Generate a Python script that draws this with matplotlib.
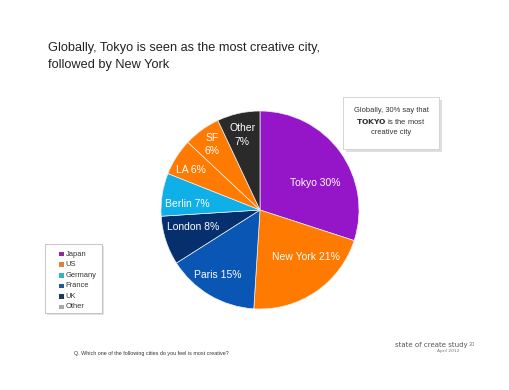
import matplotlib
matplotlib.use("Agg")
import matplotlib.pyplot as plt
from matplotlib.patches import Rectangle

cities = ["Tokyo", "New York", "Paris", "London", "Berlin", "LA", "SF", "Other"]
shares = [30, 21, 15, 8, 7, 6, 6, 7]
label_text = ["Tokyo 30%", "New York 21%", "Paris 15%", "London 8%", "Berlin 7%", "LA 6%", "SF\n6%", "Other\n7%"]
slice_colors = ["#9416C8", "#FF7A00", "#0A56B4", "#062F6E", "#0FB0E8", "#FF7A00", "#FF7A00", "#2A2A2A"]
label_pos = [(0.56, 0.27), (0.46, -0.47), (-0.43, -0.66), (-0.68, -0.17), (-0.73, 0.06),
             (-0.70, 0.40), (-0.48, 0.66), (-0.18, 0.76)]

legend_names = ["Japan", "US", "Germany", "France", "UK", "Other"]
legend_colors = ["#8E2A9E", "#E0803A", "#2BB6CF", "#1F5A94", "#173A5E", "#A8A8A8"]

W, H = 510, 390
fig = plt.figure(figsize=(W / 100, H / 100), dpi=100)
fig.patch.set_facecolor("white")
SANS = ["Liberation Sans", "DejaVu Sans"]

def fx(px):
    return px / W

def fy(py):
    return 1 - py / H

# pie
cx, cy, r = 260, 210, 100
ax = fig.add_axes([fx(cx - r), fy(cy + r), 2 * r / W, 2 * r / H])
ax.pie(shares, colors=slice_colors, startangle=90, counterclock=False, radius=1,
       wedgeprops=dict(edgecolor="#f0f0f0", linewidth=0.5))
for (x, y), t in zip(label_pos, label_text):
    ax.text(x, y, t, ha="center", va="center", color="white", fontsize=7.5,
            linespacing=1.45, family=SANS)
ax.set_xlim(-1.01, 1.01)
ax.set_ylim(-1.01, 1.01)
ax.set_aspect("auto")
ax.axis("off")

# title
fig.text(fx(48), fy(48), "Globally, Tokyo is seen as the most creative city,",
         ha="left", va="center", fontsize=9.2, color="#222222", family=SANS)
fig.text(fx(48), fy(65), "followed by New York",
         ha="left", va="center", fontsize=9.2, color="#222222", family=SANS)

# overlay axes in pixel coordinates
ov = fig.add_axes([0, 0, 1, 1], zorder=5)
ov.set_xlim(0, W)
ov.set_ylim(H, 0)
ov.axis("off")

# callout box
ov.add_patch(Rectangle((346, 100), 96, 52, facecolor="#c8c8c8", edgecolor="none", alpha=0.6))
ov.add_patch(Rectangle((343, 97), 96, 52, facecolor="white", edgecolor="#d0d0d0", linewidth=0.6))
ov.text(391, 110, "Globally, 30% say that", ha="center", va="center", fontsize=5.4, color="#333333", family=SANS)
ov.text(391, 121, "$\\bf{TOKYO}$ is the most", ha="center", va="center", fontsize=5.4, color="#333333", family=SANS)
ov.text(391, 132, "creative city", ha="center", va="center", fontsize=5.4, color="#333333", family=SANS)

# legend box
ov.add_patch(Rectangle((47, 246), 57, 69, facecolor="#c8c8c8", edgecolor="none", alpha=0.5))
ov.add_patch(Rectangle((45, 244), 57, 69, facecolor="white", edgecolor="#bbbbbb", linewidth=0.6))
for i, (n, c) in enumerate(zip(legend_names, legend_colors)):
    yy = 254 + i * 10.6
    ov.add_patch(Rectangle((59, yy - 2.3), 4.6, 4.6, facecolor=c, edgecolor="none"))
    ov.text(65.5, yy, n, ha="left", va="center", fontsize=5.4, color="#333333", family=SANS)

# footer
fig.text(fx(74), fy(353), "Q. Which one of the following cities do you feel is most creative?",
         ha="left", va="center", fontsize=3.9, color="#333333", family=SANS)
fig.text(fx(395), fy(345), "state of create study", ha="left", va="center", fontsize=5.0, color="#555555")
fig.text(fx(469), fy(344), "20", ha="left", va="center", fontsize=3.5, color="#777777")
fig.text(fx(437), fy(351), "April 2012", ha="left", va="center", fontsize=3.2, color="#777777")

fig.savefig("out.png", dpi=100, facecolor="white")
